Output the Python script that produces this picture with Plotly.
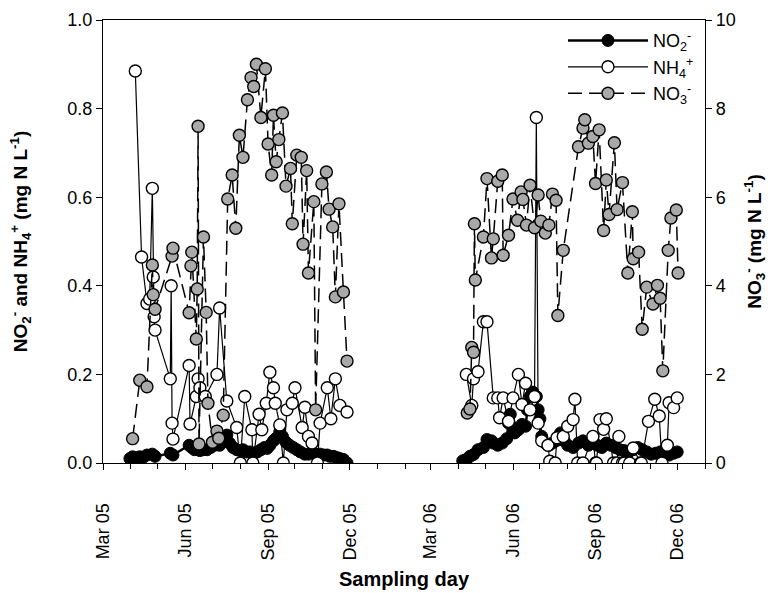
import pandas as pd
import plotly.graph_objects as go

START = pd.Timestamp("2005-03-01")

# ---- data: sampling day (days after 1 Mar 2005) and concentrations ----
no2_days = [30, 33, 37, 41, 45, 49, 55, 58, 75, 78, 96, 99, 102, 105, 108, 112, 116, 120, 124, 130,
            134, 138, 141, 145, 149, 153, 156, 160, 164, 168, 172, 176, 180, 183, 186, 190, 193, 197,
            200, 204, 208, 212, 216, 220, 225, 229, 233, 237, 242, 246, 250, 253, 257, 261, 264, 268, 272,
            401, 405, 409, 413, 418, 424, 428, 433, 435, 440, 445, 450, 452, 454, 457, 459, 463, 467, 471,
            473, 476, 479, 483, 485, 487, 489, 493, 497, 501, 505, 510, 514, 518, 524, 530, 535, 541, 546,
            551, 556, 561, 566, 571, 576, 581, 586, 591, 596, 601, 606, 611, 616, 621, 626, 631, 636, 640]
no2_vals = [0.010, 0.014, 0.012, 0.014, 0.013, 0.018, 0.020, 0.015, 0.022, 0.018, 0.040, 0.035, 0.030,
            0.033, 0.028, 0.030, 0.030, 0.035, 0.040, 0.040, 0.050, 0.063, 0.045, 0.035, 0.030, 0.028,
            0.030, 0.025, 0.025, 0.022, 0.025, 0.030, 0.035, 0.033, 0.040, 0.050, 0.056, 0.070, 0.060,
            0.047, 0.040, 0.035, 0.030, 0.025, 0.020, 0.020, 0.025, 0.020, 0.020, 0.018, 0.018, 0.015,
            0.015, 0.012, 0.010, 0.008, 0.000,
            0.005, 0.008, 0.015, 0.019, 0.030, 0.035, 0.053, 0.050, 0.045, 0.040, 0.045, 0.055, 0.090,
            0.110, 0.080, 0.068, 0.075, 0.087, 0.083, 0.120, 0.150, 0.160, 0.150, 0.120, 0.100, 0.060,
            0.045, 0.040, 0.045, 0.050, 0.068, 0.050, 0.040, 0.035, 0.045, 0.050, 0.040, 0.045, 0.040,
            0.035, 0.045, 0.040, 0.035, 0.030, 0.028, 0.025, 0.030, 0.035, 0.030, 0.025, 0.020, 0.022,
            0.025, 0.020, 0.018, 0.022, 0.025, 0.015]

nh4_days = [36, 43, 49, 52, 55, 56, 57, 58, 75, 76, 77, 78, 96, 97, 104, 106, 108, 114, 127, 130, 138,
            149, 153, 158, 166, 167, 174, 177, 182, 186, 190, 192, 197, 201, 205, 211, 214, 222, 225,
            229, 233, 239, 242, 250, 254, 259, 264, 272,
            405, 411, 413, 418, 424, 428, 435, 440, 442, 446, 452, 457, 463, 467, 471, 476, 481, 483,
            485, 489, 496, 498, 504, 506, 513, 518, 524, 526, 529, 535, 546, 549, 550, 554, 558, 561,
            569, 573, 575, 579, 581, 587, 591, 599, 600, 608, 615, 620, 623, 629, 631, 636, 640]
nh4_vals = [0.885, 0.465, 0.360, 0.370, 0.620, 0.420, 0.330, 0.300, 0.190, 0.400, 0.090, 0.054, 0.220,
            0.088, 0.150, 0.190, 0.170, 0.150, 0.200, 0.350, 0.140, 0.080, 0.000, 0.150, 0.075, 0.000,
            0.110, 0.075, 0.135, 0.205, 0.170, 0.135, 0.086, 0.000, 0.120, 0.135, 0.170, 0.080, 0.126,
            0.060, 0.045, 0.000, 0.090, 0.170, 0.100, 0.190, 0.130, 0.115,
            0.200, 0.130, 0.190, 0.206, 0.319, 0.319, 0.147, 0.147, 0.102, 0.147, 0.094, 0.147, 0.200,
            0.132, 0.180, 0.120, 0.150, 0.780, 0.090, 0.050, 0.040, 0.004, 0.000, 0.057, 0.060, 0.083,
            0.098, 0.144, 0.000, 0.000, 0.060, 0.000, 0.000, 0.098, 0.076, 0.100, 0.000, 0.000, 0.060,
            0.000, 0.000, 0.000, 0.034, 0.000, 0.000, 0.094, 0.144, 0.106, 0.000, 0.040, 0.136, 0.125,
            0.147]

no3_days = [33, 41, 49, 55, 56, 58, 77, 78, 96, 98, 99, 104, 105, 106, 107, 112, 115, 117, 122, 127,
            129, 134, 139, 144, 148, 152, 156, 161, 165, 168, 171, 176, 181, 184, 188, 190, 193, 196,
            200, 204, 209, 211, 216, 221, 223, 227, 229, 235, 237, 244, 249, 252, 256, 259, 263, 268, 272,
            406, 409, 411, 413, 414, 415, 424, 428, 433, 435, 440, 445, 446, 452, 457, 462, 466, 468,
            472, 476, 481, 485, 488, 493, 497, 501, 505, 507, 513, 530, 535, 537, 541, 546, 549, 553,
            558, 561, 564, 570, 573, 579, 585, 590, 591, 597, 601, 606, 613, 618, 621, 624, 630, 633,
            639, 641]
no3_vals = [0.55, 1.87, 1.72, 4.47, 3.80, 3.47, 4.67, 4.85, 3.39, 4.45, 4.76, 2.80, 3.93, 7.60, 0.43,
            5.10, 3.40, 1.35, 0.47, 0.72, 0.56, 1.08, 5.96, 6.50, 5.30, 7.40, 6.90, 8.20, 8.70, 8.50,
            9.00, 7.80, 8.90, 7.20, 6.50, 7.85, 6.80, 7.30, 7.90, 6.25, 6.65, 5.40, 6.95, 6.90, 4.94,
            6.60, 4.29, 5.90, 1.20, 6.30, 6.57, 5.73, 5.33, 3.75, 5.85, 3.86, 2.30,
            1.13, 1.22, 2.61, 2.50, 5.40, 4.13, 5.10, 6.42, 4.63, 5.06, 6.36, 6.50, 4.69, 5.14, 5.96,
            5.48, 6.12, 5.95, 5.37, 6.27, 5.31, 6.05, 5.46, 5.19, 5.37, 6.07, 5.93, 3.33, 4.80, 7.14,
            7.56, 7.75, 7.22, 7.37, 6.31, 7.52, 5.25, 6.39, 5.61, 7.23, 5.72, 6.33, 4.29, 5.67, 4.61,
            4.76, 3.02, 3.97, 3.59, 4.01, 3.72, 2.08, 4.80, 5.53, 5.71, 4.29]

tick_dates = pd.date_range("2005-03-01", "2006-12-01", freq="3MS")
tick_text = [d.strftime("%b %y") for d in tick_dates]

FONT = "Liberation Sans, Arial, sans-serif"


def series(days, vals, gap=60):
    """Convert day offsets to dates; break the line across the long winter gap."""
    xs, ys = [], []
    prev = None
    for d, v in zip(days, vals):
        if prev is not None and d - prev > gap:
            xs.append(None)
            ys.append(None)
        xs.append(START + pd.Timedelta(days=int(d)))
        ys.append(v)
        prev = d
    return xs, ys


fig = go.Figure()
x, y = series(no2_days, no2_vals)
fig.add_trace(go.Scatter(
    x=x, y=y, name="NO<sub>2</sub><sup>-</sup>",
    mode="lines+markers", line=dict(color="black", width=2.5),
    marker=dict(symbol="circle", size=12, color="black", line=dict(color="black", width=1))))
x, y = series(nh4_days, nh4_vals)
fig.add_trace(go.Scatter(
    x=x, y=y, name="NH<sub>4</sub><sup>+</sup>",
    mode="lines+markers", line=dict(color="black", width=1.2),
    marker=dict(symbol="circle", size=12, color="white", line=dict(color="black", width=1.4))))
x, y = series(no3_days, no3_vals)
fig.add_trace(go.Scatter(
    x=x, y=y, name="NO<sub>3</sub><sup>-</sup>", yaxis="y2",
    mode="lines+markers", line=dict(color="black", width=1.5, dash="14px,7px"),
    marker=dict(symbol="circle", size=12, color="#a9a9a9", line=dict(color="black", width=1.4))))

axis_common = dict(showline=True, linecolor="black", linewidth=1.3, showgrid=False,
                   zeroline=False, ticks="outside", tickcolor="black", ticklen=6,
                   automargin=False,
                   tickfont=dict(family=FONT, size=18, color="black"))

fig.update_layout(
    width=779, height=593, autosize=False,
    margin=dict(l=103, r=74, t=20, b=130),
    paper_bgcolor="white", plot_bgcolor="white",
    font=dict(family=FONT, color="black"),
    showlegend=True,
    legend=dict(x=0.99, y=0.995, xanchor="right", yanchor="top",
                bgcolor="rgba(255,255,255,0)", font=dict(family=FONT, size=18, color="black"),
                itemwidth=80, tracegroupgap=4),
    xaxis=dict(**axis_common, type="date",
               range=[pd.Timestamp("2005-03-01"), pd.Timestamp("2007-01-01")],
               tickvals=list(tick_dates), ticktext=tick_text, tickangle=-90,
               ticklabelstandoff=26,
               minor=dict(dtick="M1", tick0="2005-03-01", ticks="outside", ticklen=5,
                          tickcolor="black", showgrid=False),
               mirror=True,
               title=dict(text="<b>Sampling day</b>", font=dict(family=FONT, size=20, color="black"),
                          standoff=12)),
    yaxis=dict(**axis_common, range=[0, 1.0], tickvals=[0, 0.2, 0.4, 0.6, 0.8, 1.0],
               tickformat=".1f",
               title=dict(text="<b>NO<sub>2</sub><sup>-</sup> and NH<sub>4</sub><sup>+</sup> (mg N L<sup>-1</sup>)</b>",
                          font=dict(family=FONT, size=19, color="black"), standoff=34)),
    yaxis2=dict(**axis_common, range=[0, 10], tickvals=[0, 2, 4, 6, 8, 10], overlaying="y",
                side="right",
                title=dict(text="<b>NO<sub>3</sub><sup>-</sup> (mg N L<sup>-1</sup>)</b>",
                           font=dict(family=FONT, size=19, color="black"), standoff=12)),
)

fig.write_html("out.html", config={"responsive": False, "displayModeBar": False},
               default_width="779px", default_height="593px",
               post_script="document.body.style.margin='0';document.body.style.padding='0';")
